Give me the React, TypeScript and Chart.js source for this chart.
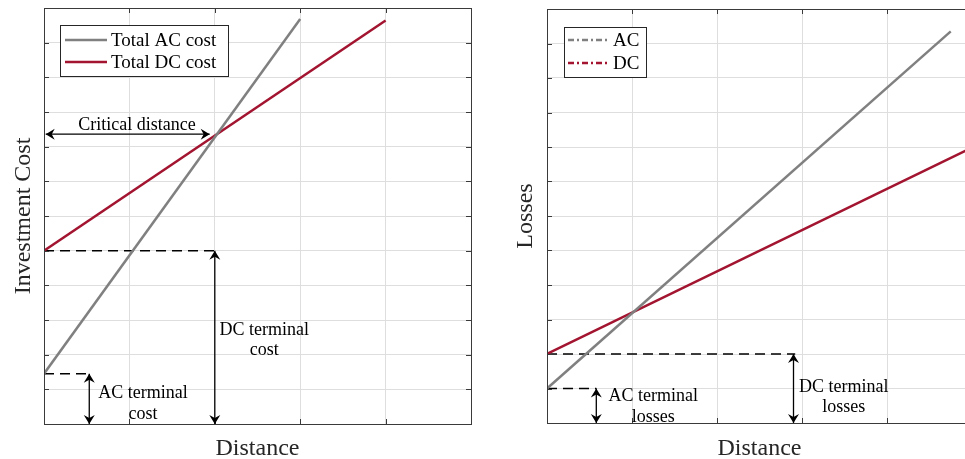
import React, { useEffect, useRef } from "react";
import { Chart, registerables } from "chart.js";
Chart.register(...registerables);

// ---------------- data ----------------
const xTickValues = [0, 1, 2, 3, 4, 5]; // distance grid (no labels)
const yMin = 0;
const yMax = 12;

// Panel 1: investment cost
const costSeriesNames = ["Total AC cost", "Total DC cost"];
const acCostDistance = [0, 3];
const acCostValue = [1.45, 11.68];
const dcCostDistance = [0, 4];
const dcCostValue = [5.0, 11.64];
const costTerminalLevel = [1.45, 5.0]; // AC, DC
const costTerminalMarkAt = [0.53, 2.0]; // where the dashed guide ends / arrow sits
const criticalDistanceSpan = [0.02, 1.94];
const criticalDistanceLevel = 8.36;

// Panel 2: losses
const lossSeriesNames = ["AC", "DC"];
const acLossDistance = [0, 4.75];
const acLossValue = [1.0, 11.35];
const dcLossDistance = [0, 5];
const dcLossValue = [2.0, 7.98];
const lossTerminalLevel = [1.0, 2.0];
const lossTerminalMarkAt = [0.58, 2.92];

// ---------------- styles ----------------
const AC_COLOR = "rgb(128,128,128)";
const DC_COLOR = "#A2142F";
const SERIF = '"Liberation Serif", "Times New Roman", serif';
const GRID = "#dedede";
const AXIS = "#3a3a3a";

type TextLabel = { lines: string[]; x: number; baselines: number[]; size: number };

type PanelCfg = {
  xTitle: string;
  yTitle: string;
  yTitleBaselineX: number;
  xTitleBaselineY: number;
  legend: { x: number; y: number; w: number; h: number; rowY: number[]; s0: number; s1: number; tx: number; dash: number[] };
  legendNames: string[];
  vArrows: { x: number; from: number; to: number }[];
  hArrows: { y: number; from: number; to: number }[];
  labels: TextLabel[];
};

function arrowHead(ctx: CanvasRenderingContext2D, x: number, y: number, angle: number) {
  const L = 9, W = 5.5, N = 3;
  ctx.save();
  ctx.translate(x, y);
  ctx.rotate(angle);
  ctx.beginPath();
  ctx.moveTo(0, 0);
  ctx.lineTo(-L, W);
  ctx.lineTo(-L + N, 0);
  ctx.lineTo(-L, -W);
  ctx.closePath();
  ctx.fill();
  ctx.restore();
}

function doubleArrow(ctx: CanvasRenderingContext2D, x0: number, y0: number, x1: number, y1: number) {
  ctx.save();
  ctx.strokeStyle = "#000";
  ctx.fillStyle = "#000";
  ctx.lineWidth = 1.3;
  ctx.beginPath();
  ctx.moveTo(x0, y0);
  ctx.lineTo(x1, y1);
  ctx.stroke();
  const a = Math.atan2(y1 - y0, x1 - x0);
  arrowHead(ctx, x1, y1, a);
  arrowHead(ctx, x0, y0, a + Math.PI);
  ctx.restore();
}

function makePlugin(cfg: PanelCfg) {
  return {
    id: "panelDecor",
    afterDraw(chart: any) {
      const ctx: CanvasRenderingContext2D = chart.ctx;
      const xs = chart.scales.x;
      const ys = chart.scales.y;
      const { left, right, top, bottom } = chart.chartArea;
      ctx.save();

      // box + inward ticks
      ctx.strokeStyle = AXIS;
      ctx.lineWidth = 1;
      ctx.strokeRect(Math.round(left) + 0.5, Math.round(top) + 0.5, Math.round(right - left), Math.round(bottom - top));
      ctx.beginPath();
      for (const v of xTickValues) {
        const px = Math.round(xs.getPixelForValue(v)) + 0.5;
        ctx.moveTo(px, bottom);
        ctx.lineTo(px, bottom - 5);
        ctx.moveTo(px, top);
        ctx.lineTo(px, top + 5);
      }
      for (let v = yMin; v <= yMax; v++) {
        const py = Math.round(ys.getPixelForValue(v)) + 0.5;
        ctx.moveTo(left, py);
        ctx.lineTo(left + 5, py);
        ctx.moveTo(right, py);
        ctx.lineTo(right - 5, py);
      }
      ctx.stroke();

      // arrows
      for (const a of cfg.vArrows) {
        const px = xs.getPixelForValue(a.x);
        doubleArrow(ctx, px, ys.getPixelForValue(a.from), px, ys.getPixelForValue(a.to));
      }
      for (const a of cfg.hArrows) {
        const py = ys.getPixelForValue(a.y);
        doubleArrow(ctx, xs.getPixelForValue(a.from), py, xs.getPixelForValue(a.to), py);
      }

      // annotation labels
      ctx.fillStyle = "#000";
      ctx.textAlign = "center";
      ctx.textBaseline = "alphabetic";
      for (const l of cfg.labels) {
        ctx.font = `${l.size}px ${SERIF}`;
        l.lines.forEach((t, i) => {
          ctx.fillText(t, xs.getPixelForValue(l.x), ys.getPixelForValue(l.baselines[i]));
        });
      }

      // legend
      const lg = cfg.legend;
      ctx.fillStyle = "#fff";
      ctx.fillRect(lg.x, lg.y, lg.w, lg.h);
      ctx.strokeStyle = "#262626";
      ctx.lineWidth = 1;
      ctx.strokeRect(lg.x + 0.5, lg.y + 0.5, lg.w, lg.h);
      const colors = [AC_COLOR, DC_COLOR];
      cfg.legendNames.forEach((name, i) => {
        const y = lg.rowY[i];
        ctx.strokeStyle = colors[i];
        ctx.lineWidth = 2.5;
        ctx.setLineDash(lg.dash);
        ctx.beginPath();
        ctx.moveTo(lg.s0, y);
        ctx.lineTo(lg.s1, y);
        ctx.stroke();
        ctx.setLineDash([]);
        ctx.fillStyle = "#000";
        ctx.font = `19px ${SERIF}`;
        ctx.textAlign = "left";
        ctx.textBaseline = "middle";
        ctx.fillText(name, lg.tx, y + 1);
      });

      // axis titles
      ctx.fillStyle = "#262626";
      ctx.font = `24px ${SERIF}`;
      ctx.textAlign = "center";
      ctx.textBaseline = "alphabetic";
      ctx.fillText(cfg.xTitle, (left + right) / 2, cfg.xTitleBaselineY);
      ctx.save();
      ctx.translate(cfg.yTitleBaselineX, (top + bottom) / 2);
      ctx.rotate(-Math.PI / 2);
      ctx.fillText(cfg.yTitle, 0, 0);
      ctx.restore();

      ctx.restore();
    },
  };
}

function pts(xs: number[], ys: number[]) {
  return xs.map((x, i) => ({ x, y: ys[i] }));
}

function buildConfig(datasets: any[], padding: any, plugin: any) {
  return {
    type: "line" as const,
    data: { datasets },
    options: {
      animation: false,
      responsive: false,
      layout: { padding },
      plugins: { legend: { display: false }, tooltip: { enabled: false } },
      elements: { point: { radius: 0 } },
      scales: {
        x: {
          type: "linear",
          min: 0,
          max: 5,
          ticks: { display: false, stepSize: 1 },
          grid: { color: GRID, drawTicks: false, lineWidth: 1 },
          border: { display: false },
        },
        y: {
          type: "linear",
          min: yMin,
          max: yMax,
          ticks: { display: false, stepSize: 1 },
          grid: { color: GRID, drawTicks: false, lineWidth: 1 },
          border: { display: false },
        },
      },
    },
    plugins: [plugin],
  };
}

function mainLine(label: string, data: any[], color: string) {
  return { label, data, borderColor: color, borderWidth: 2.5, fill: false, tension: 0, pointRadius: 0 };
}
function guideLine(data: any[]) {
  return { label: "", data, borderColor: "#000", borderWidth: 1.5, borderDash: [10, 6], fill: false, pointRadius: 0 };
}

const costPanel: PanelCfg = {
  xTitle: "Distance",
  yTitle: "Investment Cost",
  yTitleBaselineX: 30,
  xTitleBaselineY: 455,
  legend: { x: 60, y: 25, w: 168, h: 51, rowY: [40, 62], s0: 65, s1: 107, tx: 111, dash: [] },
  legendNames: costSeriesNames,
  vArrows: [
    { x: costTerminalMarkAt[0], from: costTerminalLevel[0], to: 0 },
    { x: costTerminalMarkAt[1], from: costTerminalLevel[1], to: 0 },
  ],
  hArrows: [{ y: criticalDistanceLevel, from: criticalDistanceSpan[0], to: criticalDistanceSpan[1] }],
  labels: [
    { lines: ["Critical distance"], x: 1.09, baselines: [8.48], size: 18 },
    { lines: ["DC terminal", "cost"], x: 2.58, baselines: [2.58, 1.98], size: 18 },
    { lines: ["AC terminal", "cost"], x: 1.16, baselines: [0.76, 0.15], size: 18 },
  ],
};

const lossPanel: PanelCfg = {
  xTitle: "Distance",
  yTitle: "Losses",
  yTitleBaselineX: 42,
  xTitleBaselineY: 455,
  legend: { x: 74, y: 27, w: 82, h: 50, rowY: [40, 63], s0: 78, s1: 120, tx: 123, dash: [6, 3, 2, 3] },
  legendNames: lossSeriesNames,
  vArrows: [
    { x: lossTerminalMarkAt[0], from: lossTerminalLevel[0], to: 0 },
    { x: lossTerminalMarkAt[1] - 0.02, from: lossTerminalLevel[1], to: 0 },
  ],
  hArrows: [],
  labels: [
    { lines: ["AC terminal", "losses"], x: 1.25, baselines: [0.63, 0.02], size: 18 },
    { lines: ["DC terminal", "losses"], x: 3.49, baselines: [0.89, 0.31], size: 18 },
  ],
};

export default function App() {
  const leftRef = useRef<HTMLCanvasElement | null>(null);
  const rightRef = useRef<HTMLCanvasElement | null>(null);

  useEffect(() => {
    const c1 = new Chart(
      leftRef.current as HTMLCanvasElement,
      buildConfig(
        [
          mainLine(costSeriesNames[0], pts(acCostDistance, acCostValue), AC_COLOR),
          mainLine(costSeriesNames[1], pts(dcCostDistance, dcCostValue), DC_COLOR),
          guideLine(pts([0, costTerminalMarkAt[0]], [costTerminalLevel[0], costTerminalLevel[0]])),
          guideLine(pts([0, costTerminalMarkAt[1]], [costTerminalLevel[1], costTerminalLevel[1]])),
        ],
        { left: 44, right: 9, top: 8, bottom: 35 },
        makePlugin(costPanel)
      ) as any
    );
    const c2 = new Chart(
      rightRef.current as HTMLCanvasElement,
      buildConfig(
        [
          mainLine(lossSeriesNames[0], pts(acLossDistance, acLossValue), AC_COLOR),
          mainLine(lossSeriesNames[1], pts(dcLossDistance, dcLossValue), DC_COLOR),
          guideLine(pts([0, lossTerminalMarkAt[0]], [lossTerminalLevel[0], lossTerminalLevel[0]])),
          guideLine(pts([0, lossTerminalMarkAt[1]], [lossTerminalLevel[1], lossTerminalLevel[1]])),
        ],
        { left: 57, right: 13, top: 9, bottom: 36 },
        makePlugin(lossPanel)
      ) as any
    );
    return () => {
      c1.destroy();
      c2.destroy();
    };
  }, []);

  return (
    <div
      style={{
        position: "fixed",
        left: 0,
        top: 0,
        width: 965,
        height: 459,
        overflow: "hidden",
        background: "#fff",
      }}
    >
      <canvas ref={leftRef} width={480} height={459} style={{ position: "absolute", left: 0, top: 0 }} />
      <canvas ref={rightRef} width={495} height={459} style={{ position: "absolute", left: 490, top: 0 }} />
    </div>
  );
}
